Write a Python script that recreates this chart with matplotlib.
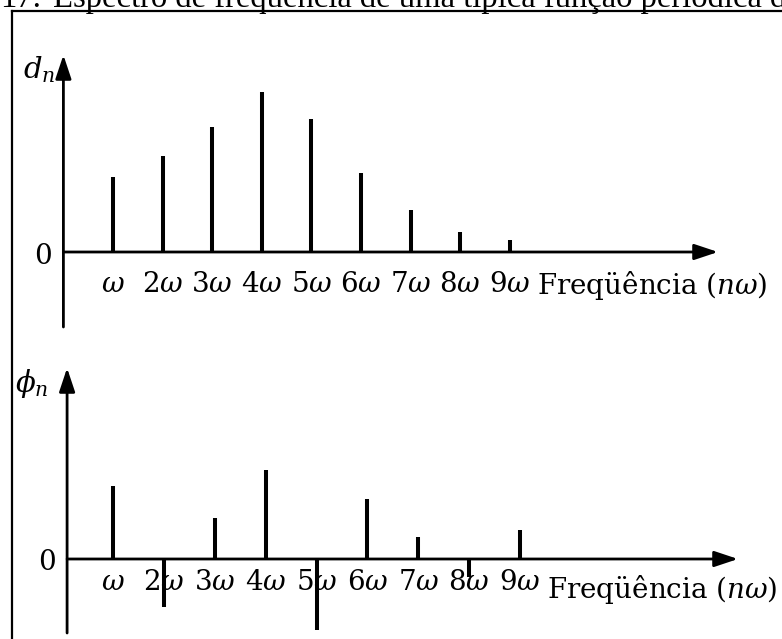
import matplotlib
matplotlib.use('Agg')
import matplotlib.pyplot as plt
from matplotlib.lines import Line2D

# ---------------- data ----------------
harmonics = [1, 2, 3, 4, 5, 6, 7, 8, 9]
tick_labels = [r'$\omega$', r'$2\omega$', r'$3\omega$', r'$4\omega$', r'$5\omega$',
               r'$6\omega$', r'$7\omega$', r'$8\omega$', r'$9\omega$']
d_n = [7.5, 9.6, 12.5, 16.0, 13.3, 7.9, 4.2, 2.0, 1.2]
phi_n = [7.3, -4.8, 4.1, 8.9, -7.1, 6.0, 2.2, -1.8, 2.9]
x_label = 'Freqüência ($n\\omega$)'
top_ylabel = r'$d_n$'
bottom_ylabel = r'$\phi_n$'
title_num = '17.'
title_text = 'Espectro de freqüência de uma típica função periódica d'

# ---------------- style ----------------
plt.rcParams['font.family'] = ['DejaVu Serif']
plt.rcParams['mathtext.fontset'] = 'dejavuserif'

W, H = 782, 639
fig = plt.figure(figsize=(W / 100, H / 100), dpi=100)
fig.patch.set_facecolor('white')


def add_ax(top_px, bottom_px):
    ax = fig.add_axes([0, 1 - bottom_px / H, 1, (bottom_px - top_px) / H])
    ax.set_axis_off()
    ax.patch.set_visible(False)
    return ax


FS = 20
arrow_kw = dict(arrowstyle='-|>,head_length=0.72,head_width=0.24', lw=2.0,
                color='black', mutation_scale=20, shrinkA=0, shrinkB=0)

# ---------------- top panel: amplitude ----------------
ax1 = add_ax(30, 330)
ox1, ux1, zy1 = 63.4, 49.6, 252
ax1.set_xlim(-ox1 / ux1, (W - ox1) / ux1)
ax1.set_ylim(-(330 - zy1) / 10, (zy1 - 30) / 10)

ax1.vlines(harmonics, 0, d_n, colors='black', lw=2.9)
ax1.annotate('', xy=(0, 19.7), xytext=(0, -7.5), arrowprops=arrow_kw)
ax1.annotate('', xy=((718 - ox1) / ux1, 0), xytext=(0, 0), arrowprops=arrow_kw)
for h, lab in zip(harmonics, tick_labels):
    ax1.text(h, -3.3, lab, ha='center', va='center', fontsize=FS)
ax1.text(9.55, -3.3, x_label, ha='left', va='center', fontsize=FS)
ax1.text(-0.41, -0.5, '0', ha='center', va='center', fontsize=FS)
ax1.text(-0.17, 17.4, top_ylabel, ha='right', va='baseline', fontsize=FS + 1)

# ---------------- bottom panel: phase ----------------
ax2 = add_ax(340, 639)
ox2, ux2, zy2 = 62.0, 50.9, 559
ax2.set_xlim(-ox2 / ux2, (W - ox2) / ux2)
ax2.set_ylim(-(639 - zy2) / 10, (zy2 - 340) / 10)

ax2.vlines(harmonics, 0, phi_n, colors='black', lw=2.9)
ax2.annotate('', xy=(0.1, 19.1), xytext=(0.1, -7.4), arrowprops=arrow_kw)
ax2.annotate('', xy=((738 - ox2) / ux2, 0), xytext=(0.1, 0), arrowprops=arrow_kw)
for h, lab in zip(harmonics, tick_labels):
    ax2.text(h, -2.3, lab, ha='center', va='center', fontsize=FS)
ax2.text(9.53, -3.1, x_label, ha='left', va='center', fontsize=FS)
ax2.text(-0.29, -0.4, '0', ha='center', va='center', fontsize=FS)
ax2.text(-0.26, 16.7, bottom_ylabel, ha='right', va='baseline', fontsize=FS + 1)

# ---------------- frame and clipped caption ----------------
fig.add_artist(Line2D([12 / W, 12 / W], [0, 1 - 11 / H], transform=fig.transFigure,
                      color='black', lw=1.6))
fig.add_artist(Line2D([12 / W, 1], [1 - 11 / H, 1 - 11 / H], transform=fig.transFigure,
                      color='black', lw=1.6))
fig.text(0 / W, 1 - 7 / H, title_num, ha='left', va='baseline', fontsize=23.5,
         family='Liberation Serif')
fig.text(53 / W, 1 - 7 / H, title_text, ha='left', va='baseline', fontsize=23.5,
         family='Liberation Serif')

fig.savefig('out.png', dpi=100)
